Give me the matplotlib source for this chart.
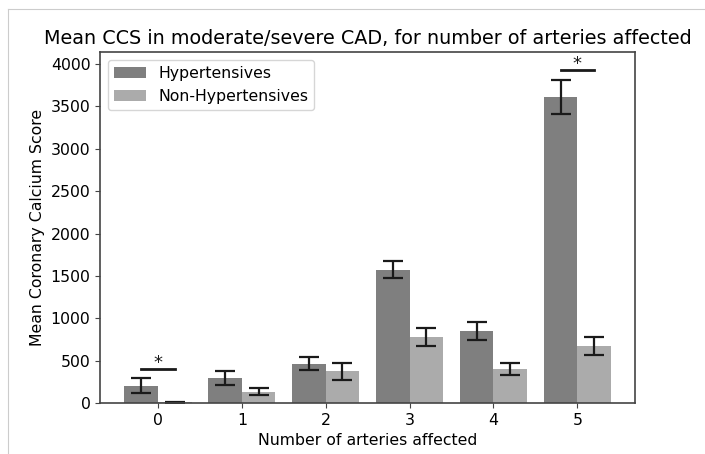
import numpy as np
import matplotlib
matplotlib.use("Agg")
import matplotlib.pyplot as plt
from matplotlib.lines import Line2D

# --- data ---
arteries = [0, 1, 2, 3, 4, 5]
hyp_mean = [205, 298, 466, 1576, 847, 3612]
hyp_err = [90, 85, 80, 100, 105, 200]
nonhyp_mean = [10, 137, 376, 785, 404, 670]
nonhyp_err = [5, 40, 100, 105, 70, 106]
sig_groups = [0, 5]
sig_level = [407, 3933]

x = np.arange(len(arteries))
width = 0.4

fig = plt.figure(figsize=(7.05, 4.54), dpi=100)
ax = fig.add_axes([0.142, 0.112, 0.759, 0.773])

ekw = dict(elinewidth=1.6, capthick=1.6, ecolor="#1a1a1a")
ax.bar(x - width / 2, hyp_mean, width, yerr=hyp_err, color="#7f7f7f",
       capsize=7, error_kw=ekw, label="Hypertensives")
ax.bar(x + width / 2, nonhyp_mean, width, yerr=nonhyp_err, color="#ababab",
       capsize=7, error_kw=ekw, label="Non-Hypertensives")

# significance markers
for g, lvl in zip(sig_groups, sig_level):
    ax.plot([g - 0.2, g + 0.2], [lvl, lvl], color="#1a1a1a", lw=2)
    ax.text(g, lvl - 40, "*", ha="center", va="bottom", fontsize=13, color="#1a1a1a")

ax.set_ylim(0, 4140)
ax.set_xticks(x)
ax.set_xticklabels([str(a) for a in arteries])
ax.tick_params(labelsize=11.3, color="#444444")
for s in ax.spines.values():
    s.set_color("#444444")
    s.set_linewidth(1.2)
ax.set_xlabel("Number of arteries affected", fontsize=11.3)
ax.set_ylabel("Mean Coronary Calcium Score", fontsize=11.3)
ax.set_title("Mean CCS in moderate/severe CAD, for number of arteries affected", fontsize=13.8)
ax.legend(loc="upper left", fontsize=11.3)

# thin page border seen at top and left of the scan
fig.add_artist(Line2D([8 / 705, 8 / 705], [0, 1 - 9 / 454], color="#cccccc", lw=0.8))
fig.add_artist(Line2D([8 / 705, 1], [1 - 9 / 454, 1 - 9 / 454], color="#cccccc", lw=0.8))

fig.savefig("out.png", dpi=100)
